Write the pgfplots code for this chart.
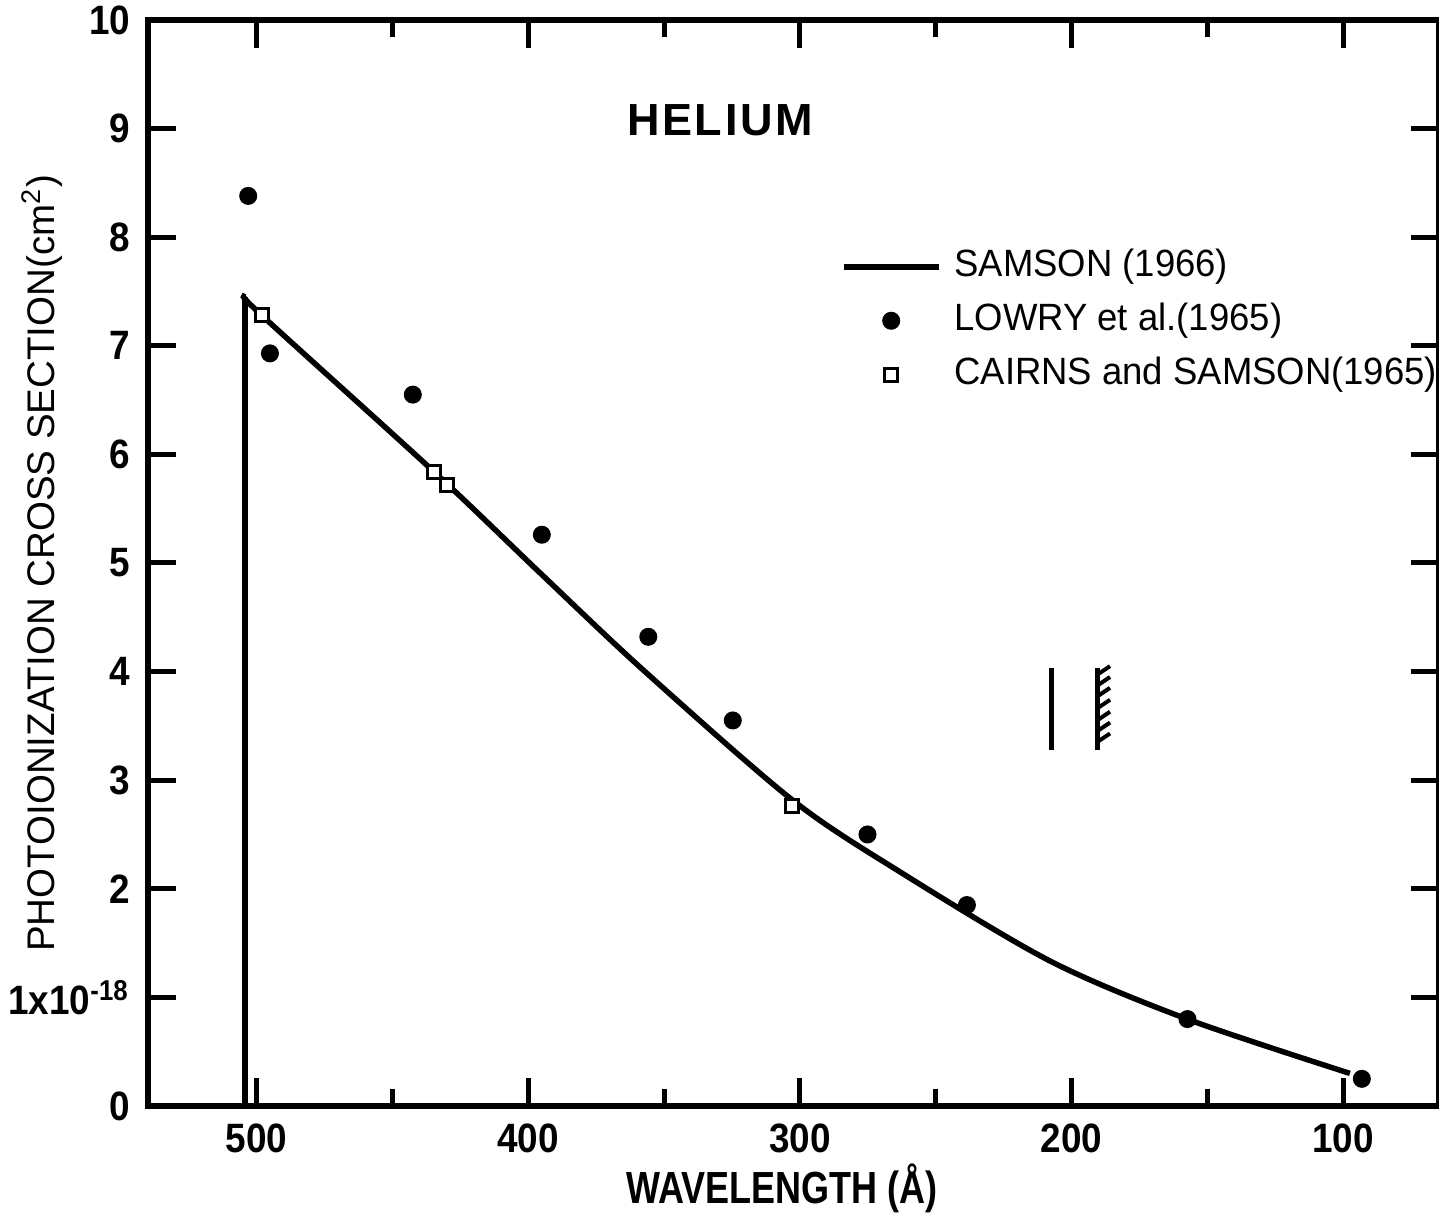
\documentclass[border=0pt]{standalone}
\usepackage{fontspec}
\setmainfont{Liberation Sans}
\newfontfamily\narrowfont[FakeStretch=0.8]{Liberation Sans}
\newfontfamily\tickfont[FakeStretch=0.9]{Liberation Sans}
\newfontfamily\legfont[FakeStretch=0.96]{Liberation Sans}
\newfontfamily\titlefont[LetterSpace=6]{Liberation Sans}
\usepackage{pgfplots}
\pgfplotsset{compat=1.18}
\begin{document}
\begin{tikzpicture}
\begin{axis}[
  scale only axis, width=258.2pt, height=217.2pt,
  x dir=reverse, xmin=64.7, xmax=540, ymin=0, ymax=10,
  xtick={100,200,300,400,500}, minor xtick={150,250,350,450},
  ytick={0,1,2,3,4,5,6,7,8,9,10},
  yticklabels={0,{1x10\textsuperscript{-18}},2,3,4,5,6,7,8,9,10},
  tick align=inside, major tick length=5.6pt, minor tick length=3.4pt,
  tick style={line width=1pt, black},
  axis line style={line width=1.1pt},
  /pgf/number format/assume math mode=true,
  ticklabel style={font=\tickfont\bfseries\fontsize{8.2}{9}\selectfont},
  xlabel={WAVELENGTH (Å)},
  ylabel={PHOTOIONIZATION CROSS SECTION(cm\textsuperscript{2})},
  xlabel style={font=\narrowfont\bfseries\fontsize{9}{10}\selectfont, at={(axis description cs:0.491,-0.0755)}, anchor=center},
  ylabel style={font=\fontsize{7.7}{9}\selectfont, at={(axis description cs:-0.082,0.5)}, anchor=center},
  legend style={at={(0.536,0.7921)}, anchor=north west, draw=none, fill=none, inner sep=0pt, row sep=2.8pt, column sep=2.6pt,
    nodes={inner sep=0pt, text height=6pt, text depth=2pt},
    font=\legfont\fontsize{7.6}{9}\selectfont},
  legend cell align=left,
  legend image code/.code={\draw[mark repeat=2,mark phase=2,#1] plot coordinates {(0pt,0pt) (9.5pt,0pt) (19pt,0pt)};},
]
\addplot[line width=1.1pt, black, smooth, tension=0.5] coordinates {
 (504.3,7.45) (498.1,7.28) (434.7,5.84) (395.3,4.90) (357.7,4.015)
 (302.9,2.82) (263.1,2.155) (207.9,1.335) (157.4,0.80) (97.5,0.30)};
\addlegendentry{SAMSON (1966)}
\addplot[only marks, mark=*, mark size=1.6pt, black] coordinates {
 (503.1,8.38) (495.1,6.93) (442.5,6.55) (395.0,5.26) (355.8,4.32)
 (324.7,3.55) (275.1,2.50) (238.5,1.85) (157.3,0.80) (93.1,0.25)};
\addlegendentry{LOWRY et al.(1965)}
\addplot[only marks, mark=square*, mark size=1.3pt, mark options={fill=white, draw=black, line width=0.6pt}] coordinates {
 (498.1,7.28) (434.7,5.84) (429.8,5.72) (303.0,2.76)};
\addlegendentry{CAIRNS and SAMSON(1965)}
% threshold edge
\addplot[forget plot, line width=1.1pt, black] coordinates {(504.3,0) (504.3,7.45)};
% annotation bars
\addplot[forget plot, line width=1pt, black] coordinates {(207.5,3.28) (207.5,4.03)};
\addplot[forget plot, line width=1pt, black] coordinates {(190.6,3.28) (190.6,4.03)};
\addplot[forget plot, line width=0.8pt, black, unbounded coords=jump] coordinates {
 (190.6,3.35) (185.8,3.43) (188,nan)
 (190.6,3.45) (185.8,3.53) (188,nan)
 (190.6,3.55) (185.8,3.63) (188,nan)
 (190.6,3.66) (185.8,3.74) (188,nan)
 (190.6,3.77) (185.8,3.85) (188,nan)
 (190.6,3.87) (185.8,3.95) (188,nan)
 (190.6,3.97) (185.8,4.05)};
\node[font=\titlefont\bfseries\fontsize{9}{10}\selectfont] at (axis cs:329.4,9.08) {HELIUM};
\coordinate (SW) at (axis description cs:0,0);
\coordinate (NE) at (axis description cs:1,1);
\end{axis}
\pgfresetboundingbox
\path ([xshift=-29.6pt,yshift=-21.6pt]SW) rectangle ([yshift=4pt]NE);
\end{tikzpicture}
\end{document}
